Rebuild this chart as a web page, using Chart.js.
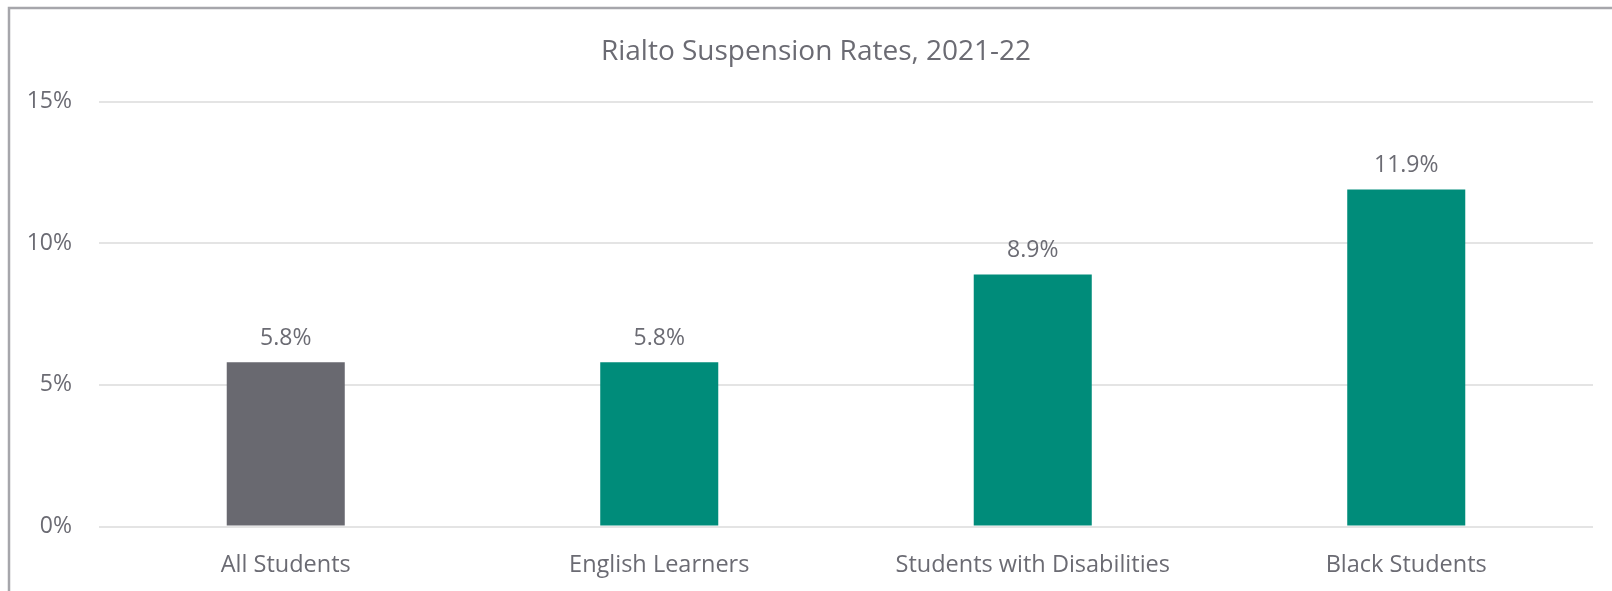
<!DOCTYPE html>
<html>
<head>
<meta charset="utf-8">
<script src="https://cdn.jsdelivr.net/npm/chart.js@4.4.0/dist/chart.umd.min.js"></script>
<style>
  html, body { margin: 0; padding: 0; background: #ffffff; }
  #wrap { width: 1612px; height: 591px; position: relative; }
  canvas { display: block; }
</style>
</head>
<body>
<div id="wrap"><canvas id="c" width="1612" height="591"></canvas></div>
<script>
// ---- data ----
const chartTitle = "Rialto Suspension Rates, 2021-22";
const categories = ["All Students", "English Learners", "Students with Disabilities", "Black Students"];
const suspensionRates = [5.8, 5.8, 8.9, 11.9];
const yTickValues = [0, 5, 10, 15];

// ---- styles ----
const barColors = ["#696970", "#008C7A", "#008C7A", "#008C7A"];
const textColor = "#6B6B73";
const fontFamily = "'Open Sans', 'Noto Sans', sans-serif";

const frameBorder = {
  id: 'frameBorder',
  beforeDraw(chart) {
    const ctx = chart.ctx;
    ctx.save();
    ctx.fillStyle = '#ffffff';
    ctx.fillRect(0, 0, chart.width, chart.height);
    ctx.strokeStyle = '#A6A6AB';
    ctx.lineWidth = 2.5;
    ctx.beginPath();
    ctx.moveTo(9, chart.height + 10);
    ctx.lineTo(9, 8);
    ctx.lineTo(chart.width + 10, 8);
    ctx.stroke();
    ctx.restore();
  }
};

const titleText = {
  id: 'titleText',
  afterDraw(chart) {
    const ctx = chart.ctx;
    ctx.save();
    ctx.fillStyle = textColor;
    ctx.font = "28px " + fontFamily;
    ctx.textAlign = 'center';
    ctx.textBaseline = 'middle';
    ctx.fillText(chartTitle, 816, 51.6);
    ctx.restore();
  }
};

const valueLabels = {
  id: 'valueLabels',
  afterDatasetsDraw(chart) {
    const ctx = chart.ctx;
    const meta = chart.getDatasetMeta(0);
    ctx.save();
    ctx.fillStyle = textColor;
    ctx.font = "23px " + fontFamily;
    ctx.textAlign = 'center';
    ctx.textBaseline = 'middle';
    meta.data.forEach((bar, i) => {
      const v = chart.data.datasets[0].data[i];
      ctx.fillText(v.toFixed(1) + '%', bar.x, bar.y - 24);
    });
    ctx.restore();
  }
};

new Chart(document.getElementById('c'), {
  type: 'bar',
  data: {
    labels: categories,
    datasets: [{
      data: suspensionRates,
      backgroundColor: barColors,
      borderWidth: 0,
      barPercentage: 0.316,
      categoryPercentage: 1.0
    }]
  },
  options: {
    responsive: false,
    animation: false,
    devicePixelRatio: 1,
    layout: { padding: { left: 0, right: 19, top: 101.7, bottom: 0 } },
    plugins: {
      legend: { display: false },
      tooltip: { enabled: false },
      title: { display: false }
    },
    scales: {
      x: {
        grid: { display: false, drawTicks: false },
        border: { display: false },
        ticks: {
          color: textColor,
          font: { family: fontFamily, size: 23.5 },
          padding: 25,
          maxRotation: 0,
          autoSkip: false
        },
        afterFit(scale) { scale.height = 64.5; }
      },
      y: {
        min: 0,
        max: 15,
        afterBuildTicks(scale) { scale.ticks = yTickValues.map(v => ({ value: v })); },
        grid: { color: '#E4E4E4', lineWidth: 2, drawTicks: false },
        border: { display: false },
        ticks: {
          color: textColor,
          font: { family: fontFamily, size: 23 },
          padding: 27,
          callback: v => v + '%'
        },
        afterFit(scale) { scale.width = 99; }
      }
    }
  },
  plugins: [frameBorder, titleText, valueLabels]
});
</script>
</body>
</html>
